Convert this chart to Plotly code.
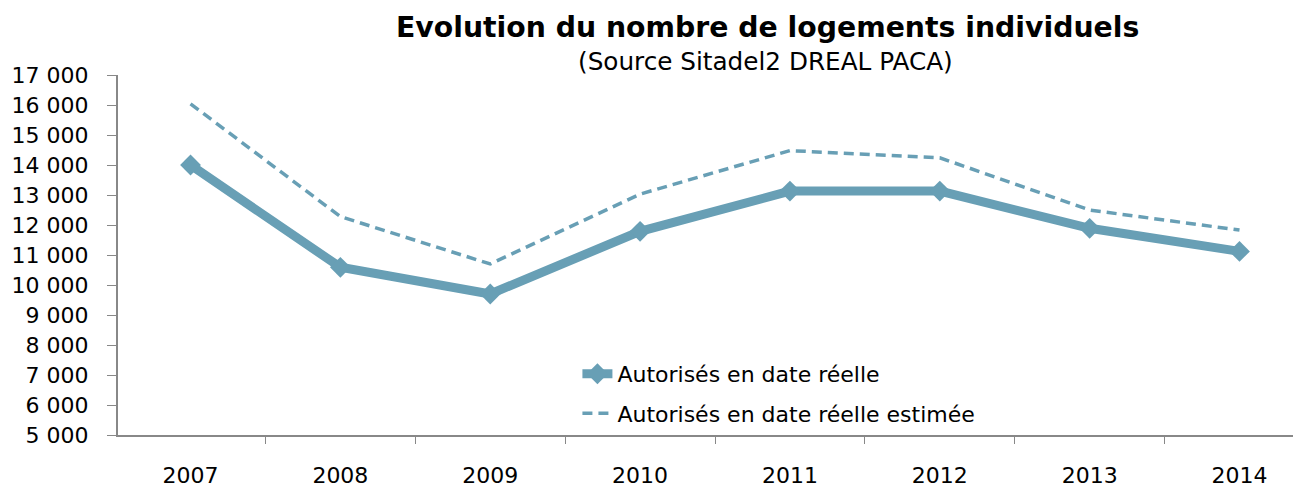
import plotly.graph_objects as go

years = ["2007", "2008", "2009", "2010", "2011", "2012", "2013", "2014"]
reel = [14000, 10590, 9700, 11790, 13130, 13130, 11890, 11120]
estime = [16040, 12280, 10700, 13030, 14480, 14240, 12500, 11830]
y_ticks = list(range(5000, 17001, 1000))
y_labels = [f"{v:,}".replace(",", " ") for v in y_ticks]

color = "#689fb5"
font_family = "DejaVu Sans, sans-serif"

fig = go.Figure()
fig.add_trace(go.Scatter(
    x=years, y=reel, mode="lines+markers", name="Autorisés en date réelle",
    line=dict(color=color, width=9), marker=dict(symbol="diamond", size=16, color=color),
    legendgroup="a",
))
fig.add_trace(go.Scatter(
    x=years, y=estime, mode="lines", name="Autorisés en date réelle estimée",
    line=dict(color=color, width=3.5, dash="10px,6px"),
    legendgroup="b",
))

fig.update_layout(
    width=1293, height=491,
    margin=dict(l=118, r=0, t=75, b=56),
    paper_bgcolor="white", plot_bgcolor="white",
    font=dict(family=font_family, size=22, color="black"),
    legend=dict(
        x=0.391, xanchor="left", y=0.114, yanchor="middle",
        bgcolor="rgba(0,0,0,0)", font=dict(size=22), tracegroupgap=8,
    ),
    showlegend=True,
    annotations=[
        dict(text="<b>Evolution du nombre de logements individuels</b>",
             xref="paper", yref="paper", x=(767 - 118) / 1175, y=1 + (75 - 27) / 360,
             xanchor="center", yanchor="middle", showarrow=False,
             font=dict(size=28.3, family=font_family, color="black")),
        dict(text="(Source Sitadel2 DREAL PACA)",
             xref="paper", yref="paper", x=(765 - 118) / 1175, y=1 + (75 - 62) / 360,
             xanchor="center", yanchor="middle", showarrow=False,
             font=dict(size=24.7, family=font_family, color="black")),
    ],
)
fig.update_xaxes(
    type="category", range=[-0.484, 7.357], showgrid=False,
    showline=True, linecolor="#888888", linewidth=2,
    ticks="outside", tickson="boundaries", ticklen=7, tickcolor="#888888",
    ticklabelstandoff=20,
)
fig.update_yaxes(
    range=[5000, 17000], tickvals=y_ticks, ticktext=y_labels, showgrid=False,
    showline=True, linecolor="#888888", linewidth=2,
    ticks="outside", ticklen=9, tickcolor="#888888", ticklabelstandoff=14,
    zeroline=False,
)

fig.write_html("out.html", config={"displayModeBar": False})
with open("out.html", "r", encoding="utf-8") as f:
    html = f.read()
html = html.replace("<head>", "<head><style>body{margin:0;}</style>", 1)
with open("out.html", "w", encoding="utf-8") as f:
    f.write(html)
